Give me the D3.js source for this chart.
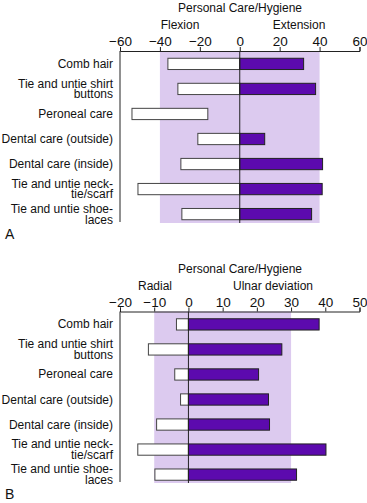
<!DOCTYPE html>
<html>
<head>
<meta charset="utf-8">
<script src="https://cdn.jsdelivr.net/npm/d3@7"></script>
<style>
  body { margin: 0; background: #fff; }
  svg { display: block; font-family: "Liberation Sans", Arial, sans-serif; }
</style>
</head>
<body>
<svg id="chart" width="367" height="503"></svg>
<script>
const tasks = [
  ['Comb hair'],
  ['Tie and untie shirt', 'buttons'],
  ['Peroneal care'],
  ['Dental care (outside)'],
  ['Dental care (inside)'],
  ['Tie and untie neck-', 'tie/scarf'],
  ['Tie and untie shoe-', 'laces']
];

// panel A: wrist flexion / extension (degrees)
const flexion = [-36, -31, -54, -21, -29.5, -51, -29];
const flexionEnd = [0, 0, -16, 0, 0, 0, 0];
const extension = [32, 38, null, 12.5, 41.5, 41.3, 36];
const ticksA = [-60, -40, -20, 0, 20, 40, 60];

// panel B: radial / ulnar deviation (degrees)
const radial = [-3.5, -11.7, -4, -2.3, -9.3, -14.8, -9.8];
const radialEnd = [0, 0, 0, 0, 0, 0, 0];
const ulnar = [38.2, 27.3, 20.5, 23.4, 23.7, 40.2, 31.6];
const ticksB = [-20, -10, 0, 10, 20, 30, 40, 50];

const PURPLE = '#5c0aae';
const SHADE = '#dccaef';
const FONT = '"Liberation Sans", Arial, sans-serif';
const svg = d3.select('#chart');

function fmt(v) { return v < 0 ? '\u2212' + Math.abs(v) : String(v); }

function drawPanel(p) {
  const g = svg.append('g');
  const x = d3.scaleLinear().domain(p.domain).range([120, 359.5]);
  const y = d3.scaleBand().domain(d3.range(tasks.length))
    .range([p.top + 0.5, p.top + 0.5 + 25 * tasks.length]).paddingInner(0.55).paddingOuter(0.27);

  // functional range shading
  g.append('rect')
    .attr('x', x(p.shade[0])).attr('y', p.top)
    .attr('width', x(p.shade[1]) - x(p.shade[0]))
    .attr('height', p.bottom - p.top)
    .attr('fill', SHADE);

  // negative bars (white)
  g.selectAll('rect.neg').data(p.neg.map((v, i) => ({ v, e: p.negEnd[i], i }))).join('rect')
    .attr('class', 'neg')
    .attr('x', d => x(d.v)).attr('y', d => y(d.i))
    .attr('width', d => x(d.e) - x(d.v)).attr('height', y.bandwidth())
    .attr('fill', '#fff').attr('stroke', '#444').attr('stroke-width', 1);

  // positive bars (purple)
  g.selectAll('rect.pos').data(p.pos.map((v, i) => ({ v, i })).filter(d => d.v != null)).join('rect')
    .attr('class', 'pos')
    .attr('x', x(0)).attr('y', d => y(d.i))
    .attr('width', d => x(d.v) - x(0)).attr('height', y.bandwidth())
    .attr('fill', PURPLE).attr('stroke', '#222').attr('stroke-width', 1);

  // zero line
  g.append('line')
    .attr('x1', x(0)).attr('x2', x(0)).attr('y1', p.top).attr('y2', p.bottom)
    .attr('stroke', '#222').attr('stroke-width', 1);

  // top axis, ticks pointing up
  const axis = g.append('g').attr('transform', `translate(0,${p.top})`)
    .call(d3.axisTop(x).tickValues(p.ticks).tickFormat(fmt).tickSizeOuter(0).tickSize(4).tickPadding(1));
  axis.attr('font-family', FONT).attr('font-size', 13.5);
  axis.select('.domain').attr('stroke', '#222');
  axis.selectAll('.tick line').attr('stroke', '#222');
  axis.selectAll('.tick text').attr('fill', '#111');

  // left axis line
  g.append('line')
    .attr('x1', 120).attr('x2', 120).attr('y1', p.top).attr('y2', p.bottom - 1)
    .attr('stroke', '#222').attr('stroke-width', 1);

  // category labels
  const lab = g.selectAll('text.cat').data(tasks).join('text')
    .attr('class', 'cat')
    .attr('text-anchor', 'end').attr('font-size', 12).attr('fill', '#111')
    .attr('x', 113)
    .attr('y', (d, i) => y(i) + y.bandwidth() / 2 + 4 - (d.length - 1) * 5.4);
  lab.selectAll('tspan').data(d => d).join('tspan')
    .attr('x', 113).attr('dy', (d, i) => i === 0 ? 0 : 10.8)
    .text(d => d);

  // titles
  g.append('text').attr('x', 240).attr('y', p.top - 39)
    .attr('text-anchor', 'middle').attr('font-size', 12).attr('fill', '#111')
    .text('Personal Care/Hygiene');
  g.append('text').attr('x', p.leftLabel[1]).attr('y', p.top - 22)
    .attr('text-anchor', 'middle').attr('font-size', 12).attr('fill', '#111')
    .text(p.leftLabel[0]);
  g.append('text').attr('x', p.rightLabel[1]).attr('y', p.top - 22)
    .attr('text-anchor', 'middle').attr('font-size', 12).attr('fill', '#111')
    .text(p.rightLabel[0]);

  // panel letter
  g.append('text').attr('x', 5).attr('y', p.bottom + 16)
    .attr('font-size', 14).attr('fill', '#111').text(p.letter);
}

drawPanel({
  domain: [-60, 60], ticks: ticksA, shade: [-40, 40],
  neg: flexion, negEnd: flexionEnd, pos: extension, top: 51, bottom: 223,
  leftLabel: ['Flexion', 180], rightLabel: ['Extension', 299], letter: 'A'
});
drawPanel({
  domain: [-20, 50], ticks: ticksB, shade: [-10, 30],
  neg: radial, negEnd: radialEnd, pos: ulnar, top: 311.5, bottom: 483,
  leftLabel: ['Radial', 155], rightLabel: ['Ulnar deviation', 273], letter: 'B'
});
</script>
</body>
</html>
